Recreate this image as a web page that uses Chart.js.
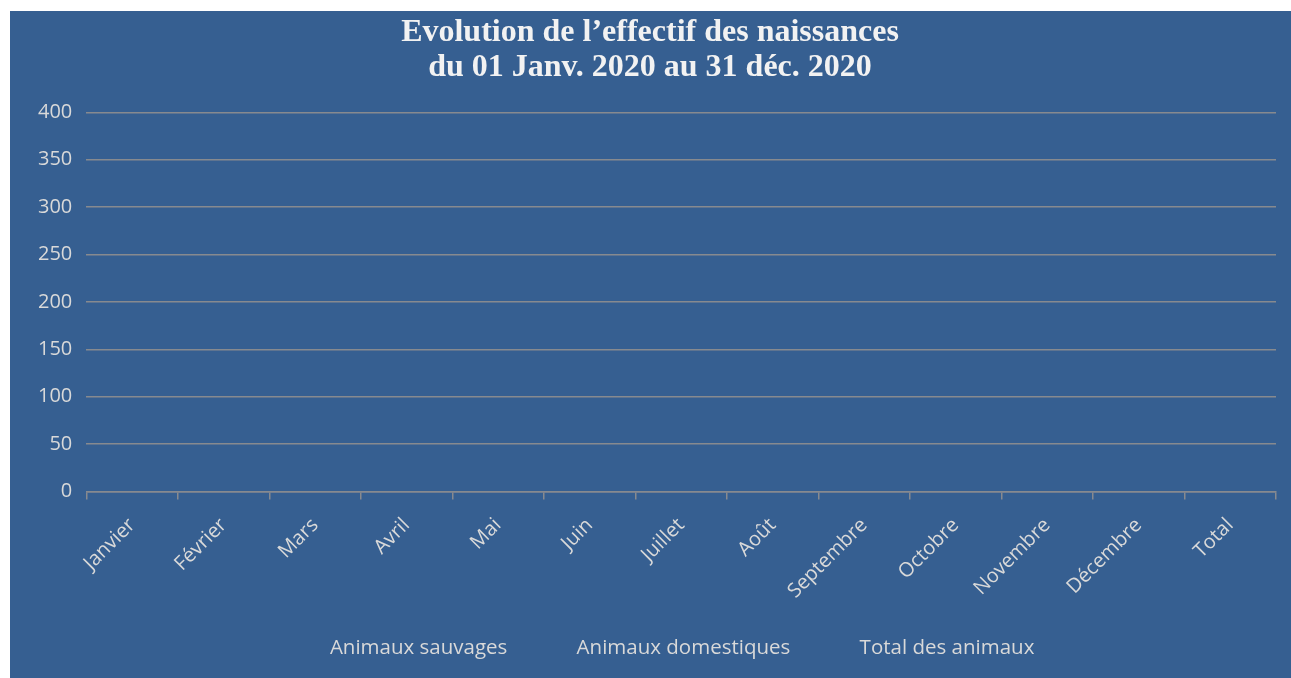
<!DOCTYPE html>
<html>
<head>
<meta charset="utf-8">
<script src="https://cdn.jsdelivr.net/npm/chart.js@4.4.1/dist/chart.umd.min.js"></script>
<style>
  html, body { margin: 0; padding: 0; background: #ffffff; width: 1291px; height: 678px; overflow: hidden; }
  #box { position: absolute; left: 10px; top: 11px; width: 1281px; height: 667px; background: #365F91; }
  canvas { display: block; }
</style>
</head>
<body>
<div id="box"><canvas id="c" width="1281" height="667"></canvas></div>
<script>
// Chart data (the reference chart contains no plotted values: all cells are empty)
const categories = ["Janvier", "Février", "Mars", "Avril", "Mai", "Juin", "Juillet", "Août", "Septembre", "Octobre", "Novembre", "Décembre", "Total"];
const animauxSauvages   = [null, null, null, null, null, null, null, null, null, null, null, null, null];
const animauxDomestiques = [null, null, null, null, null, null, null, null, null, null, null, null, null];
const totalDesAnimaux   = [null, null, null, null, null, null, null, null, null, null, null, null, null];
const seriesNames = ["Animaux sauvages", "Animaux domestiques", "Total des animaux"];
const yMin = 0, yMax = 400, yStep = 50;
const titleLines = ["Evolution de l\u2019effectif des naissances", "du 01 Janv. 2020 au 31 déc. 2020"];

const textColor = "#d9d9d9";
const gridColor = "#878a8f";
const invisible = "rgba(0,0,0,0)";

new Chart(document.getElementById("c"), {
  type: "bar",
  data: {
    labels: categories,
    datasets: [
      { label: seriesNames[0], data: animauxSauvages, backgroundColor: invisible, borderColor: invisible, borderWidth: 0 },
      { label: seriesNames[1], data: animauxDomestiques, backgroundColor: invisible, borderColor: invisible, borderWidth: 0 },
      { label: seriesNames[2], data: totalDesAnimaux, backgroundColor: invisible, borderColor: invisible, borderWidth: 0 }
    ]
  },
  options: {
    responsive: false,
    animation: false,
    layout: { padding: { left: 14, right: 15, top: 0, bottom: 10 } },
    plugins: {
      title: {
        display: true,
        text: titleLines,
        color: "#f2f2f2",
        font: { family: "'Liberation Serif', 'Times New Roman', serif", size: 32, weight: "bold", lineHeight: 1.1 },
        padding: { top: 4, bottom: 27 }
      },
      legend: {
        display: true,
        position: "bottom",
        labels: {
          color: textColor,
          font: { family: "'Open Sans', sans-serif", size: 20.5 },
          boxWidth: 54,
          boxHeight: 1,
          padding: 5
        }
      },
      tooltip: { enabled: false }
    },
    scales: {
      x: {
        offset: true,
        grid: { display: true, offset: true, drawOnChartArea: false, drawTicks: true, tickLength: 8, color: gridColor, lineWidth: 1.5 },
        border: { display: true, color: gridColor, width: 1.5 },
        ticks: {
          color: textColor,
          font: { family: "'Open Sans', sans-serif", size: 20 },
          minRotation: 45, maxRotation: 45,
          padding: 14,
          autoSkip: false
        },
        afterFit: (scale) => { scale.height = 141; }
      },
      y: {
        min: yMin, max: yMax,
        grid: { color: gridColor, lineWidth: 1.5, drawTicks: false },
        border: { display: false },
        ticks: {
          stepSize: yStep,
          color: textColor,
          font: { family: "'Open Sans', sans-serif", size: 20 },
          padding: 14
        }
      }
    }
  }
});
</script>
</body>
</html>
